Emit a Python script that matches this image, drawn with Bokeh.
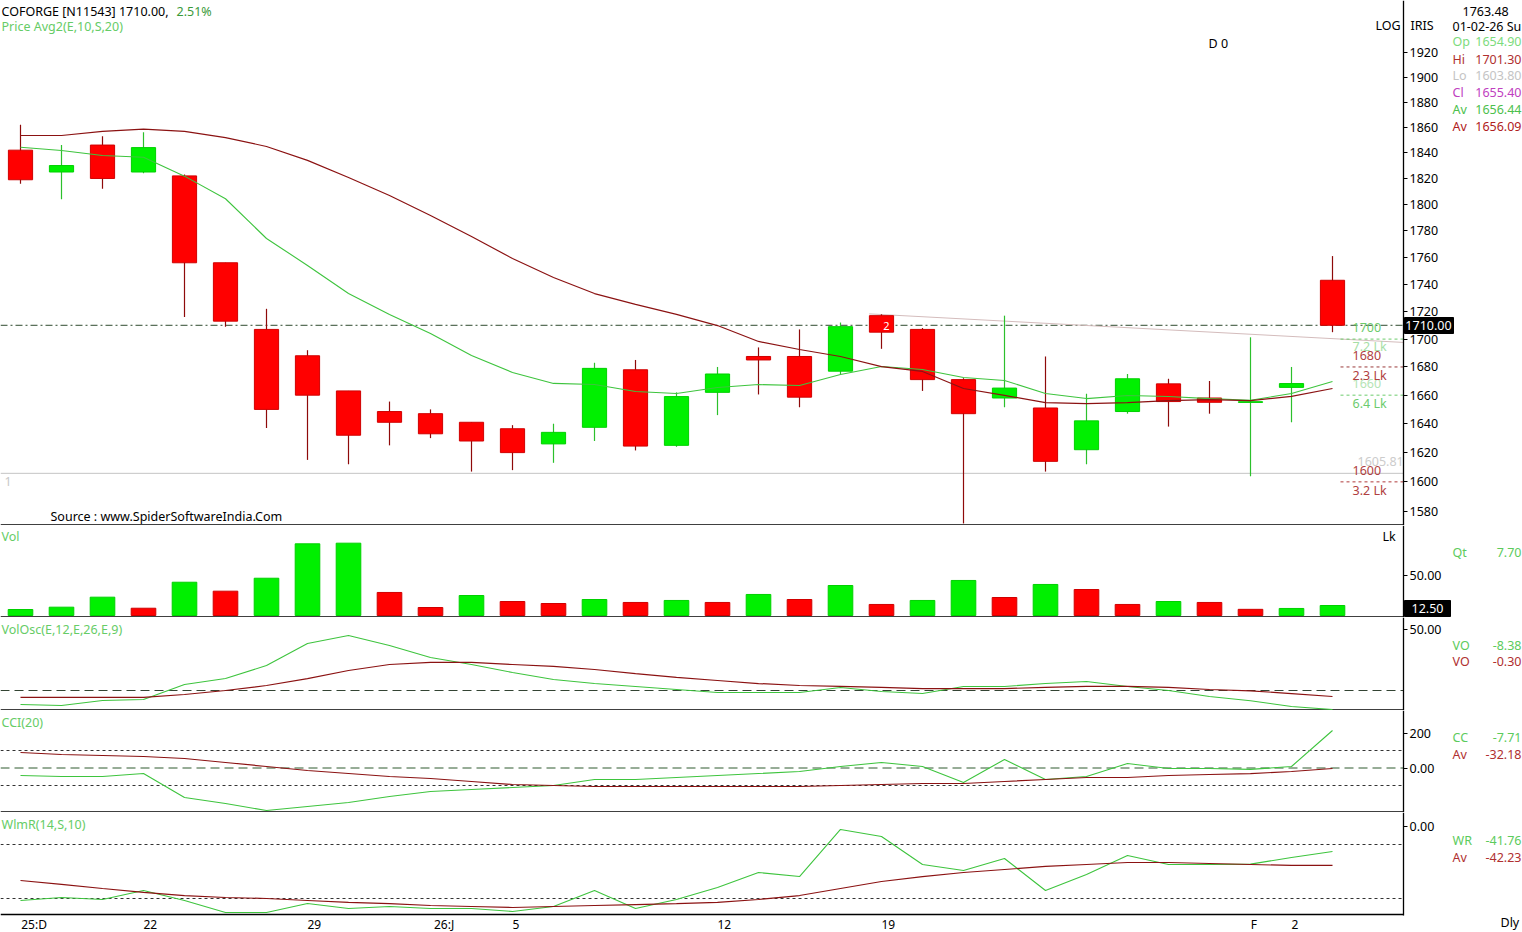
import math
from bokeh.plotting import figure
from bokeh.models import Range1d, FixedTicker, PrintfTickFormatter, Label, ColumnDataSource
from bokeh.layouts import column
from bokeh.embed import file_html
from bokeh.resources import INLINE

# ---------------- data ----------------
dates = ["17-12", "18-12", "19-12", "22-12", "23-12", "24-12", "26-12", "29-12", "30-12", "31-12",
         "01-01", "02-01", "05-01", "06-01", "07-01", "08-01", "09-01", "12-01", "13-01", "14-01",
         "16-01", "19-01", "20-01", "21-01", "22-01", "23-01", "27-01", "28-01", "29-01", "30-01",
         "01-02", "02-02", "03-02"]
opens = [1842, 1825, 1846, 1825, 1822, 1756, 1707, 1688, 1663, 1648.5, 1647, 1641, 1636.5, 1626, 1637.5,
         1678, 1625, 1662, 1687.5, 1687.5, 1677, 1717, 1707, 1671, 1658, 1651, 1622, 1648.5, 1668, 1658,
         1654.9, 1665.5, 1743]
highs = [1862, 1846, 1853, 1856, 1823, 1756, 1722, 1692, 1663, 1655.5, 1650, 1641, 1639, 1640, 1683,
         1685, 1662, 1680, 1694, 1707, 1712, 1718, 1708, 1672, 1717, 1687.5, 1661, 1675, 1671.6, 1670,
         1701.3, 1680, 1761]
lows = [1816, 1804, 1812, 1824, 1716, 1709, 1637, 1615, 1612, 1625, 1630, 1607, 1608, 1613, 1628,
        1621.5, 1624, 1646, 1660.5, 1651.5, 1675, 1693, 1663, 1572, 1651.5, 1607, 1612, 1647, 1638, 1647,
        1603.8, 1641, 1705]
closes = [1819, 1830, 1820, 1844, 1756, 1713, 1650, 1660, 1632, 1641, 1633, 1628, 1620, 1634, 1679,
          1624.5, 1659, 1675, 1685, 1658.6, 1709, 1705, 1671, 1647, 1665, 1614, 1642, 1671.6, 1655.5, 1655,
          1655.4, 1668.2, 1710]
ema10 = [1844.3, 1841.7, 1837.8, 1836.5, 1821.8, 1804.4, 1774.2, 1754.0, 1733.2, 1717.9, 1704.0, 1688.2,
         1676.1, 1668.3, 1667.5, 1662.6, 1661.2, 1665.4, 1667.5, 1666.8, 1674.6, 1680.3, 1678.2, 1672.5,
         1670.4, 1661.2, 1657.6, 1659.8, 1659.1, 1657.6, 1656.4, 1661.2, 1669.7]
sma20 = [1853.5, 1853.5, 1856.7, 1858.6, 1856.7, 1851.9, 1844.9, 1834.0, 1820.7, 1806.9, 1791.6, 1775.7,
         1759.2, 1745.1, 1733.2, 1725.2, 1717.9, 1709.8, 1698.3, 1692.5, 1687.5, 1680.3, 1676.8, 1664.7,
         1659.8, 1654.8, 1654.1, 1654.8, 1656.2, 1656.9, 1656.1, 1659.1, 1664.7]
volume = [7.5, 10.4, 22.9, 9.1, 41.6, 30.4, 46.6, 89.6, 90.4, 28.8, 10.0, 25.0, 17.5, 15.0, 20.0, 16.3,
          18.8, 16.3, 26.3, 20.0, 37.5, 13.8, 18.8, 43.8, 22.5, 38.8, 32.5, 13.8, 17.5, 16.3, 7.7, 8.8, 12.5]
vo_line = [-11.5, -12.3, -8.2, -7.4, 4.9, 9.8, 20.5, 38.5, 45.1, 36.9, 27.0, 21.3, 14.8, 9.0, 5.7, 3.3,
           0.8, -1.6, -1.6, -1.6, 2.5, -0.8, -2.5, 3.3, 3.3, 5.7, 7.4, 3.3, 0.0, -4.9, -8.4, -13.1, -15.6]
vo_signal = [-5.7, -5.7, -5.7, -5.7, -3.3, 0.0, 4.1, 9.8, 16.4, 21.3, 23.0, 23.0, 21.3, 19.7, 17.2, 13.9,
             10.7, 8.2, 5.7, 4.1, 3.3, 2.5, 1.6, 1.6, 1.6, 2.5, 3.3, 3.3, 2.5, 0.8, -0.3, -2.5, -4.9]
cci = [-42.9, -48.6, -48.6, -31.4, -168.6, -202.9, -242.9, -220.0, -197.1, -162.9, -134.3, -122.9,
       -111.4, -100.0, -65.7, -65.7, -54.3, -42.9, -31.4, -20.0, 8.6, 31.4, 8.6, -82.9, 48.6, -65.7,
       -48.6, 25.7, -2.9, -2.9, -7.71, 8.6, 214.3]
cci_avg = [88.6, 77.1, 71.4, 65.7, 54.3, 31.4, 8.6, -14.3, -31.4, -48.6, -60.0, -77.1, -94.3, -100.0,
           -105.7, -105.7, -105.7, -105.7, -105.7, -105.7, -100.0, -94.3, -88.6, -88.6, -77.1, -65.7,
           -54.3, -54.3, -42.9, -37.1, -32.18, -20.0, -2.9]
wr = [-82.2, -78.9, -81.1, -71.1, -82.2, -95.6, -95.6, -85.6, -91.1, -88.9, -91.1, -91.1, -94.4, -88.9,
      -71.1, -91.1, -81.1, -67.8, -51.1, -55.6, -3.3, -11.1, -42.2, -48.9, -35.6, -71.1, -53.3, -32.2,
      -42.2, -42.2, -41.76, -34.4, -27.8]
wr_avg = [-60.0, -64.4, -68.9, -73.3, -76.7, -78.9, -80.0, -82.2, -84.4, -85.6, -87.8, -88.9, -90.0,
          -88.9, -87.8, -86.7, -85.6, -84.4, -81.1, -76.7, -68.9, -61.1, -55.6, -51.1, -47.8, -44.4,
          -42.2, -40.0, -40.0, -41.1, -42.23, -43.3, -43.3]

xtick_idx = [0, 3, 7, 10, 12, 17, 21, 30, 31]
xtick_labels = ["25:D", "22", "29", "26:J", "5", "12", "19", "F", "2"]
price_ticks = [1580, 1600, 1620, 1640, 1660, 1680, 1700, 1720, 1740, 1760, 1780, 1800, 1820, 1840,
               1860, 1880, 1900, 1920]
last_price = 1710.00
pct_change = "2.51%"
support_line = 1605.81
trend_idx = [20.7, 33.73]
trend_price = [1718.3, 1697.6]
level_prices = [1700, 1680, 1660, 1600]
info_names = ["Op", "Hi", "Lo", "Cl", "Av", "Av"]
info_values = ["1654.90", "1701.30", "1603.80", "1655.40", "1656.44", "1656.09"]

# ---------------- style / helpers ----------------
FONT = "Noto Sans"
C_UP = "#00F000"
C_DN = "#FF0000"
STEP = 41.0
W = 1522
X0 = -20 / STEP
X1 = X0 + W / STEP
XEND = (1403 - 20) / STEP
x_range = Range1d(X0, X1)
idx = list(range(len(opens)))


def xr(px):
    return (px - 20) / STEP


def yp(py):
    return 1920 * math.exp(-(py - 52) / 2355.0)


def yv(py):
    return (615 - py) / 0.8


def yo(py):
    return (690 - py) / 1.22


def yc(py):
    return (767.5 - py) / 0.175


def yw(py):
    return (826 - py) / 0.9


def hline(f, y, color, dash="solid", width=1.0):
    f.segment(x0=[X0], x1=[XEND], y0=[y], y1=[y], line_color=color, line_dash=dash, line_width=width)


def style_yaxis(ax):
    ax.fixed_location = XEND
    ax.axis_line_color = "black"
    ax.axis_line_width = 1.3
    ax.major_tick_in = 0
    ax.major_tick_out = 4
    ax.minor_tick_line_color = None
    ax.major_label_standoff = 2
    ax.major_label_text_font = FONT
    ax.major_label_text_font_size = "12.5px"
    ax.major_label_text_color = "black"


def make_fig(h, yrange, ytype="linear", xaxis=False):
    f = figure(frame_width=W, frame_height=h, x_range=x_range, y_range=yrange, y_axis_type=ytype,
               y_axis_location="right", x_axis_location="below" if xaxis else None,
               toolbar_location=None, output_backend="svg", min_border_left=0, min_border_right=0,
               min_border_top=0, min_border_bottom=0, outline_line_color=None,
               background_fill_color="white", border_fill_color="white")
    f.grid.visible = False
    style_yaxis(f.yaxis[0])
    if not xaxis:
        hline(f, yrange.start, "black", width=2.4)
    return f


def lab(f, px, y, text, color="black", size="12.5px", align="left"):
    f.add_layout(Label(x=xr(px), y=y, text=text, text_color=color, text_font_size=size, text_align=align,
                       text_baseline="middle", text_font=FONT))


# ---------------- price panel ----------------
p = make_fig(525, Range1d(yp(525), yp(0)), "log")
p.yaxis[0].ticker = FixedTicker(ticks=price_ticks)
p.yaxis[0].formatter = PrintfTickFormatter(format="%d")

hline(p, support_line, "#C4C4C4")
hline(p, last_price, "#2E4A2E", "7 3 2 3")
p.line(trend_idx, trend_price, line_color="#D4BCBC", line_width=1)

up = [c >= o for o, c in zip(opens, closes)]
src = ColumnDataSource(dict(
    x=idx, h=highs, l=lows,
    top=[max(o, c) for o, c in zip(opens, closes)],
    bottom=[min(o, c) for o, c in zip(opens, closes)],
    fill=[C_UP if u else C_DN for u in up],
    line=["#00D000" if u else "#D00000" for u in up],
    wick=["#2CC02C" if u else "#8E0A0A" for u in up],
))
p.segment("x", "h", "x", "l", line_color="wick", line_width=1.2, source=src)
p.vbar(x="x", width=0.59, top="top", bottom="bottom", fill_color="fill", line_color="line", source=src)
p.line(idx, ema10, line_color="#3EC43E", line_width=1.1)
p.line(idx, sma20, line_color="#8B1212", line_width=1.2)

lvl_cols = ["#6CCB6C", "#9A3A3A", "#6CCB6C", "#B03A3A"]
p.segment(x0=[xr(1340)] * 4, x1=[XEND] * 4, y0=level_prices, y1=level_prices, line_color=lvl_cols,
          line_dash="3 3", line_width=1)

# current-price marker box on the axis
p.quad(left=[xr(1404)], right=[xr(1453)], top=[yp(317)], bottom=[yp(333)], fill_color="black",
       line_color="black")

lab(p, 1, yp(11), "COFORGE [N11543] %.2f," % last_price, "black")
lab(p, 176, yp(11), pct_change, "#3A9A3A")
lab(p, 1, yp(26), "Price  Avg2(E,10,S,20)", "#66CC66")
lab(p, 1208, yp(43), "D 0", "black")
lab(p, 1375, yp(25), "LOG", "black")
lab(p, 1410, yp(25), "IRIS", "black")
lab(p, 1462, yp(11), "1763.48", "black")
lab(p, 1452, yp(26), "01-02-26 Su", "black")
info_cols = ["#7CDB7C", "#B03030", "#C4C4C4", "#C040C0", "#4CC04C", "#B02020"]
info_y = [41, 59, 75, 92, 109, 126]
for n, v, c, yy in zip(info_names, info_values, info_cols, info_y):
    lab(p, 1452, yp(yy), n, c)
    lab(p, 1521, yp(yy), v, c, align="right")
lab(p, 4, yp(481), "1", "#C8C8C8")
lab(p, 50, yp(516), "Source : www.SpiderSoftwareIndia.Com", "black")
lab(p, 886, yp(325), "2", "white", "11px", "center")
lab(p, 1352, yp(327), "1700", "#6CCB6C")
lab(p, 1352, yp(346), "7.2 Lk", "#A6DEA6")
lab(p, 1352, yp(355), "1680", "#B04040")
lab(p, 1352, yp(383), "1660", "#B4E4B4")
lab(p, 1352, yp(375), "2.3 Lk", "#B04040")
lab(p, 1352, yp(403), "6.4 Lk", "#6CCB6C")
lab(p, 1357, yp(461), "%.2f" % support_line, "#CCCCCC")
lab(p, 1352, yp(470), "1600", "#B04040")
lab(p, 1352, yp(490), "3.2 Lk", "#B04040")
lab(p, 1428, yp(325), "%.2f" % last_price, "white", "12.5px", "center")

# ---------------- volume panel ----------------
v = make_fig(92, Range1d(yv(617), yv(525)))
v.yaxis[0].ticker = FixedTicker(ticks=[50])
v.yaxis[0].formatter = PrintfTickFormatter(format="%.2f")
vcol = [C_UP if (i == 0 or volume[i] >= volume[i - 1]) else C_DN for i in idx]
vline = ["#00D000" if c == C_UP else "#D00000" for c in vcol]
v.vbar(x=idx, width=0.6, top=volume, bottom=0, fill_color=vcol, line_color=vline)
v.quad(left=[xr(1404)], right=[xr(1450)], top=[yv(600)], bottom=[yv(616)], fill_color="black",
       line_color="black")
lab(v, 1, yv(536), "Vol", "#66CC66")
lab(v, 1382, yv(536), "Lk", "black")
lab(v, 1452, yv(552), "Qt", "#5CCB5C")
lab(v, 1521, yv(552), "7.70", "#5CCB5C", align="right")
lab(v, 1427, yv(608), "%.2f" % volume[-1], "white", "12.5px", "center")

# ---------------- volume oscillator ----------------
o = make_fig(93, Range1d(yo(710), yo(617)))
o.yaxis[0].ticker = FixedTicker(ticks=[50])
o.yaxis[0].formatter = PrintfTickFormatter(format="%.2f")
hline(o, 0, "#334433", "9 5")
o.line(idx, vo_line, line_color="#3EC43E", line_width=1.1)
o.line(idx, vo_signal, line_color="#8B1212", line_width=1.2)
lab(o, 1, yo(629), "VolOsc(E,12,E,26,E,9)", "#66CC66")
lab(o, 1452, yo(645), "VO", "#5CCB5C")
lab(o, 1521, yo(645), "-8.38", "#5CCB5C", align="right")
lab(o, 1452, yo(661), "VO", "#B03030")
lab(o, 1521, yo(661), "-0.30", "#B03030", align="right")

# ---------------- CCI ----------------
c = make_fig(102, Range1d(yc(812), yc(710)))
c.yaxis[0].ticker = FixedTicker(ticks=[0, 200])
c.yaxis[0].major_label_overrides = {0: "0.00", 200: "200"}
for lv in [100, -100]:
    hline(c, lv, "#333333", "3 3")
hline(c, 0, "#2E5A2E", "9 5")
c.line(idx, cci, line_color="#3EC43E", line_width=1.1)
c.line(idx, cci_avg, line_color="#8B1212", line_width=1.2)
lab(c, 1, yc(722), "CCI(20)", "#66CC66")
lab(c, 1452, yc(737), "CC", "#5CCB5C")
lab(c, 1521, yc(737), "-7.71", "#5CCB5C", align="right")
lab(c, 1452, yc(754), "Av", "#B03030")
lab(c, 1521, yc(754), "-32.18", "#B03030", align="right")

# ---------------- Williams %R ----------------
w = make_fig(120, Range1d(yw(932), yw(812)), xaxis=True)
wy = w.yaxis[0]
wy.bounds = (yw(915), yw(812))
wy.ticker = FixedTicker(ticks=[0])
wy.formatter = PrintfTickFormatter(format="%.2f")
for lv in [-20, -80]:
    hline(w, lv, "#333333", "3 3")
w.line(idx, wr, line_color="#3EC43E", line_width=1.1)
w.line(idx, wr_avg, line_color="#8B1212", line_width=1.2)
xpos = [round(i + len(t) * 3.4 / STEP, 3) for i, t in zip(xtick_idx, xtick_labels)]
xa = w.xaxis[0]
xa.fixed_location = yw(914)
xa.bounds = (X0, XEND)
xa.ticker = FixedTicker(ticks=xpos)
xa.major_label_overrides = {pp: t for pp, t in zip(xpos, xtick_labels)}
xa.major_tick_in = 0
xa.major_tick_out = 0
xa.minor_tick_line_color = None
xa.axis_line_color = "black"
xa.axis_line_width = 1.3
xa.major_label_standoff = 1
xa.major_label_text_font = FONT
xa.major_label_text_font_size = "12px"
xa.major_label_text_color = "black"
lab(w, 1, yw(824), "WlmR(14,S,10)", "#66CC66")
lab(w, 1452, yw(840), "WR", "#5CCB5C")
lab(w, 1521, yw(840), "-41.76", "#5CCB5C", align="right")
lab(w, 1452, yw(857), "Av", "#B03030")
lab(w, 1521, yw(857), "-42.23", "#B03030", align="right")
lab(w, 1500, yw(922), "Dly", "black")

layout = column(p, v, o, c, w, spacing=0)
open("out.html", "w").write(file_html(layout, INLINE))
